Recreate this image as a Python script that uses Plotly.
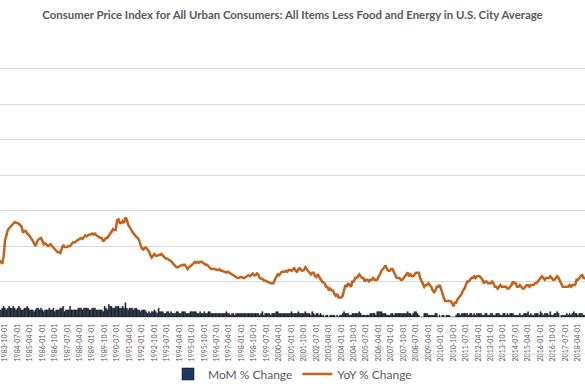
import pandas as pd
import plotly.graph_objects as go

title_text = "Consumer Price Index for All Urban Consumers: All Items Less Food and Energy in U.S. City Average"
start_month = "1983-06-01"

# YoY % change, monthly from 1983-06
yoy = [
    3.2, 3.1, 3.0, 3.4, 4.3, 4.6, 4.9,                                  # 1983 Jun-Dec
    5.0, 5.1, 5.2, 5.3, 5.35, 5.3, 5.3, 5.25, 5.15, 5.1, 4.75, 4.85,    # 1984
    4.85, 4.7, 4.65, 4.55, 4.45, 4.3, 4.15, 4.0, 4.2, 4.35, 4.4, 4.45,  # 1985
    4.3, 4.1, 4.15, 4.05, 4.0, 4.05, 4.1, 4.0, 3.9, 3.85, 3.75, 3.65,   # 1986
    3.65, 3.6, 3.85, 4.05, 3.95, 3.95, 3.95, 4.0, 4.0, 4.1, 4.2, 4.2,   # 1987
    4.25, 4.3, 4.35, 4.4, 4.45, 4.4, 4.5, 4.6, 4.55, 4.6, 4.65, 4.65,   # 1988
    4.7, 4.65, 4.7, 4.6, 4.55, 4.5, 4.45, 4.45, 4.25, 4.35, 4.45, 4.45, # 1989
    4.6, 4.7, 4.8, 4.95, 4.9, 4.9, 5.45, 5.5, 5.3, 5.3, 5.4, 5.3,       # 1990
    5.6, 5.5, 5.2, 5.1, 4.95, 4.8, 4.7, 4.55, 4.5, 4.45, 4.3, 4.05,     # 1991
    3.85, 3.8, 3.9, 3.9, 3.8, 3.7, 3.5, 3.35, 3.45, 3.55, 3.45, 3.45,   # 1992
    3.5, 3.5, 3.55, 3.45, 3.35, 3.3, 3.3, 3.25, 3.2, 3.15, 3.05, 2.95,  # 1993
    2.9, 2.8, 2.8, 2.85, 2.9, 2.9, 2.95, 2.95, 2.8, 2.7, 2.8, 2.85,     # 1994
    2.95, 3.0, 3.1, 3.05, 3.1, 3.05, 3.1, 3.12, 3.05, 3.0, 2.95, 2.95,  # 1995
    2.85, 2.8, 2.7, 2.7, 2.7, 2.7, 2.65, 2.65, 2.7, 2.6, 2.6, 2.55,     # 1996
    2.5, 2.5, 2.55, 2.5, 2.45, 2.4, 2.35, 2.25, 2.25, 2.2, 2.2, 2.25,   # 1997
    2.25, 2.2, 2.2, 2.25, 2.3, 2.35, 2.3, 2.4, 2.45, 2.35, 2.35, 2.45,  # 1998
    2.4, 2.2, 2.15, 2.15, 2.05, 2.05, 2.0, 1.95, 1.95, 1.9, 1.9, 1.9,   # 1999
    2.1, 2.25, 2.4, 2.35, 2.45, 2.55, 2.55, 2.55, 2.6, 2.55, 2.65, 2.65,# 2000
    2.6, 2.7, 2.75, 2.6, 2.55, 2.7, 2.75, 2.65, 2.6, 2.65, 2.8, 2.7,    # 2001
    2.6, 2.55, 2.4, 2.5, 2.5, 2.3, 2.25, 2.4, 2.25, 2.15, 2.0, 1.95,    # 2002
    1.9, 1.7, 1.7, 1.5, 1.6, 1.5, 1.5, 1.3, 1.2, 1.3, 1.1, 1.1,         # 2003
    1.1, 1.2, 1.6, 1.8, 1.7, 1.9, 1.8, 1.7, 2.0, 2.0, 2.2, 2.2,         # 2004
    2.3, 2.4, 2.3, 2.2, 2.2, 2.0, 2.1, 2.1, 2.0, 2.1, 2.1, 2.2,         # 2005
    2.1, 2.1, 2.1, 2.3, 2.4, 2.6, 2.7, 2.8, 2.9, 2.7, 2.6, 2.6,         # 2006
    2.7, 2.7, 2.5, 2.3, 2.2, 2.2, 2.2, 2.1, 2.1, 2.2, 2.3, 2.4,         # 2007
    2.5, 2.3, 2.4, 2.3, 2.3, 2.4, 2.5, 2.5, 2.5, 2.2, 2.0, 1.8,         # 2008
    1.7, 1.8, 1.8, 1.9, 1.8, 1.7, 1.5, 1.4, 1.5, 1.7, 1.7, 1.8,         # 2009
    1.6, 1.3, 1.1, 0.9, 0.9, 0.9, 0.9, 0.9, 0.8, 0.6, 0.8, 0.8,         # 2010
    1.0, 1.1, 1.2, 1.3, 1.5, 1.6, 1.8, 2.0, 2.0, 2.1, 2.2, 2.2,         # 2011
    2.3, 2.2, 2.3, 2.3, 2.3, 2.2, 2.1, 1.9, 2.0, 2.0, 1.9, 1.9,         # 2012
    1.9, 2.0, 1.9, 1.7, 1.7, 1.6, 1.7, 1.8, 1.7, 1.7, 1.7, 1.7,         # 2013
    1.6, 1.6, 1.7, 1.8, 2.0, 1.9, 1.9, 1.7, 1.7, 1.8, 1.7, 1.6,         # 2014
    1.6, 1.7, 1.8, 1.8, 1.7, 1.8, 1.8, 1.8, 1.9, 1.9, 2.0, 2.1,         # 2015
    2.2, 2.3, 2.2, 2.1, 2.2, 2.2, 2.2, 2.3, 2.2, 2.1, 2.1, 2.2,         # 2016
    2.3, 2.2, 2.0, 1.9, 1.7, 1.7, 1.7, 1.7, 1.7, 1.8, 1.7, 1.8,         # 2017
    1.8, 1.8, 2.1, 2.1, 2.2, 2.3, 2.4, 2.2, 2.2, 2.1,                   # 2018 Jan-Oct
]

# MoM % change, monthly from 1983-06
mom = [
    0.3, 0.4, 0.5, 0.6, 0.5, 0.4, 0.5,                                  # 1983 Jun-Dec
    0.6, 0.5, 0.5, 0.6, 0.5, 0.4, 0.5, 0.6, 0.5, 0.4, 0.4, 0.5,         # 1984
    0.5, 0.6, 0.5, 0.4, 0.4, 0.4, 0.3, 0.4, 0.5, 0.5, 0.4, 0.5,         # 1985
    0.4, 0.3, 0.4, 0.4, 0.4, 0.5, 0.4, 0.4, 0.5, 0.3, 0.4, 0.4,         # 1986
    0.4, 0.5, 0.5, 0.6, 0.3, 0.4, 0.4, 0.4, 0.6, 0.4, 0.4, 0.4,         # 1987
    0.4, 0.4, 0.5, 0.5, 0.5, 0.4, 0.5, 0.5, 0.5, 0.5, 0.4, 0.4,         # 1988
    0.5, 0.5, 0.5, 0.4, 0.4, 0.4, 0.4, 0.4, 0.3, 0.6, 0.5, 0.4,         # 1989
    0.7, 0.6, 0.6, 0.5, 0.5, 0.6, 0.6, 0.6, 0.5, 0.5, 0.6, 0.5,         # 1990
    0.8, 0.5, 0.4, 0.5, 0.5, 0.5, 0.4, 0.5, 0.5, 0.4, 0.4, 0.3,         # 1991
    0.4, 0.4, 0.4, 0.3, 0.2, 0.3, 0.2, 0.3, 0.3, 0.4, 0.3, 0.2,         # 1992
    0.5, 0.3, 0.3, 0.3, 0.2, 0.2, 0.3, 0.3, 0.2, 0.3, 0.2, 0.2,         # 1993
    0.2, 0.3, 0.3, 0.2, 0.2, 0.3, 0.3, 0.3, 0.2, 0.2, 0.2, 0.3,         # 1994
    0.3, 0.3, 0.3, 0.3, 0.2, 0.2, 0.3, 0.2, 0.2, 0.3, 0.2, 0.2,         # 1995
    0.3, 0.3, 0.2, 0.2, 0.2, 0.2, 0.2, 0.2, 0.2, 0.2, 0.2, 0.2,         # 1996
    0.2, 0.3, 0.2, 0.2, 0.1, 0.2, 0.2, 0.1, 0.2, 0.2, 0.2, 0.2,         # 1997
    0.2, 0.2, 0.2, 0.2, 0.2, 0.2, 0.2, 0.2, 0.2, 0.2, 0.2, 0.2,         # 1998
    0.2, 0.1, 0.2, 0.3, 0.1, 0.2, 0.2, 0.2, 0.2, 0.1, 0.2, 0.2,         # 1999
    0.2, 0.3, 0.3, 0.2, 0.2, 0.2, 0.2, 0.2, 0.2, 0.2, 0.2, 0.2,         # 2000
    0.3, 0.2, 0.2, 0.2, 0.2, 0.3, 0.2, 0.2, 0.2, 0.2, 0.3, 0.2,         # 2001
    0.2, 0.2, 0.1, 0.3, 0.2, 0.1, 0.2, 0.2, 0.1, 0.2, 0.1, 0.1,         # 2002
    0.0, 0.1, 0.1, 0.0, 0.1, 0.1, 0.1, 0.1, 0.0, 0.1, 0.0, 0.1,         # 2003
    0.1, 0.2, 0.3, 0.2, 0.2, 0.2, 0.1, 0.1, 0.2, 0.2, 0.2, 0.2,         # 2004
    0.2, 0.3, 0.2, 0.1, 0.1, 0.1, 0.1, 0.1, 0.1, 0.2, 0.2, 0.2,         # 2005
    0.2, 0.1, 0.3, 0.3, 0.3, 0.3, 0.2, 0.2, 0.2, 0.1, 0.1, 0.1,         # 2006
    0.2, 0.2, 0.1, 0.2, 0.2, 0.2, 0.2, 0.2, 0.2, 0.2, 0.2, 0.2,         # 2007
    0.3, 0.2, 0.2, 0.1, 0.2, 0.3, 0.3, 0.2, 0.1, 0.0, 0.0, 0.0,         # 2008
    0.2, 0.2, 0.2, 0.1, 0.1, 0.1, 0.1, 0.1, 0.2, 0.2, 0.0, 0.1,         # 2009
    -0.1, 0.1, 0.1, 0.0, 0.1, 0.1, 0.1, 0.0, 0.0, 0.0, 0.0, 0.1,        # 2010
    0.2, 0.2, 0.1, 0.2, 0.2, 0.2, 0.2, 0.2, 0.1, 0.2, 0.2, 0.1,         # 2011
    0.2, 0.1, 0.2, 0.2, 0.2, 0.2, 0.1, 0.1, 0.2, 0.2, 0.1, 0.1,         # 2012
    0.2, 0.2, 0.1, 0.1, 0.2, 0.2, 0.2, 0.1, 0.1, 0.2, 0.2, 0.1,         # 2013
    0.2, 0.1, 0.2, 0.2, 0.2, 0.1, 0.1, 0.1, 0.1, 0.2, 0.1, 0.1,         # 2014
    0.2, 0.2, 0.2, 0.3, 0.1, 0.2, 0.1, 0.1, 0.2, 0.2, 0.2, 0.1,         # 2015
    0.3, 0.2, 0.1, 0.2, 0.2, 0.2, 0.1, 0.3, 0.1, 0.1, 0.2, 0.2,         # 2016
    0.3, 0.2, -0.1, 0.1, 0.1, 0.1, 0.1, 0.2, 0.1, 0.2, 0.1, 0.2,        # 2017
    0.3, 0.2, 0.2, 0.1, 0.2, 0.2, 0.2, 0.1, 0.1, 0.2,                   # 2018 Jan-Oct
]

months = list(pd.date_range(start_month, periods=len(yoy), freq="MS").strftime("%Y-%m-%d"))
tick_labels = months[4::9]   # 1983-10-01, 1984-07-01, ... every 9 months

FONT = "Lato, Carlito, 'Liberation Sans', sans-serif"
GRAY = "#595959"

fig = go.Figure()
fig.add_trace(go.Bar(
    x=months, y=mom, name="MoM % Change",
    marker=dict(color="#1F3864", line=dict(color="#000000", width=0.5)),
))
fig.add_trace(go.Scatter(
    x=months, y=yoy, name="YoY % Change", mode="lines",
    line=dict(color="#C4621A", width=2.5),
))

fig.update_layout(
    width=585, height=390, autosize=False,
    margin=dict(l=0, r=0, t=33, b=73, autoexpand=False),
    paper_bgcolor="white", plot_bgcolor="white",
    bargap=0.3,
    showlegend=True,
    title=dict(text="<b>" + title_text + "</b>", x=0.5, xanchor="center",
               y=1 - 15 / 390, yanchor="middle",
               font=dict(family=FONT, size=11.4, color=GRAY)),
    legend=dict(orientation="h", x=0.5, xanchor="center", y=-57 / 284, yanchor="middle",
                font=dict(family=FONT, size=12, color=GRAY), itemwidth=30,
                bgcolor="rgba(0,0,0,0)", traceorder="normal"),
    xaxis=dict(type="category", range=[0.39, 423.1], automargin=False,
               tickmode="array", tickvals=tick_labels, ticktext=tick_labels,
               tickangle=-90, tickfont=dict(family=FONT, size=7, color=GRAY),
               ticklabelstandoff=3,
               showgrid=False, ticks="", showline=True, linecolor="#d9d9d9",
               linewidth=1),
    yaxis=dict(range=[0, 16], dtick=2, showticklabels=False, automargin=False,
               gridcolor="#d9d9d9", gridwidth=1, zeroline=True,
               zerolinecolor="#d9d9d9", zerolinewidth=1, ticks=""),
    shapes=[dict(type="line", xref="paper", yref="paper", x0=0, x1=1,
                 y0=-37 / 284, y1=-37 / 284,
                 line=dict(color="#e3e3e3", width=1))],
)

fig.write_html("out.html", config={"displayModeBar": False},
               post_script="document.body.style.margin='0';document.body.style.padding='0';")
